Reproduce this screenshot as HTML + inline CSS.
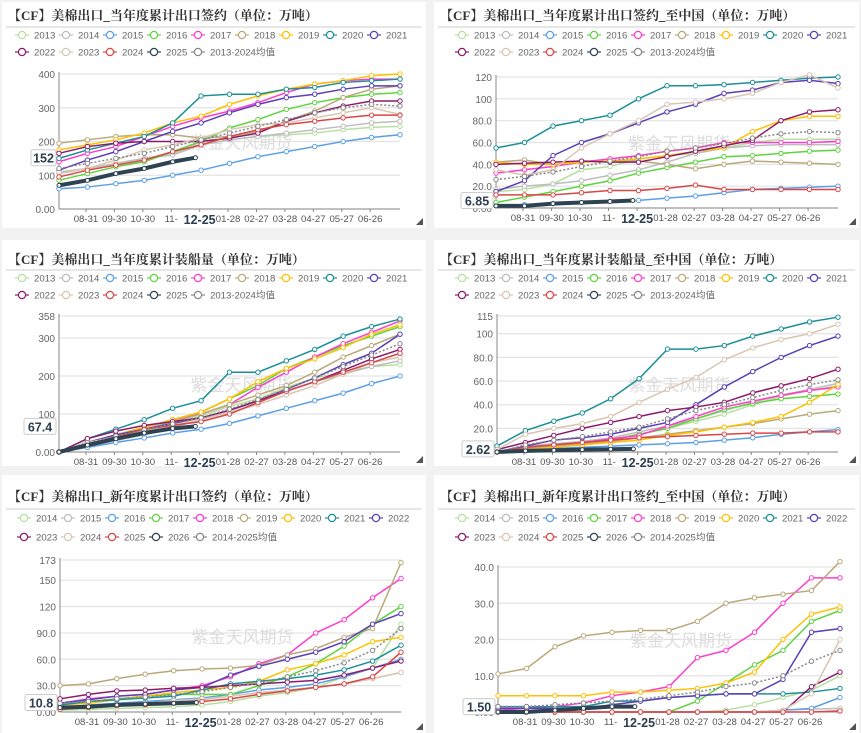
<!DOCTYPE html>
<html><head><meta charset="utf-8">
<style>
body{margin:0;background:#f2f2f2;}
svg{display:block;font-family:"Liberation Sans","Noto Sans CJK SC",sans-serif;}
</style></head>
<body>
<svg id="chart" width="861" height="733" viewBox="0 0 861 733"></svg>
<script>
// ---------- shared categories ----------
const months = ["08-31","09-30","10-30","11-","12-25","01-28","02-27","03-28","04-27","05-27","06-26"];
const yearsA = ["2013","2014","2015","2016","2017","2018","2019","2020","2021","2022","2023","2024","2025","2013-2024均值"];
const yearsB = ["2014","2015","2016","2017","2018","2019","2020","2021","2022","2023","2024","2025","2026","2014-2025均值"];
const colors = ["#b7dfa0","#bdbdbd","#5c9fe6","#5fd43e","#ff3ccc","#b9a97a","#ffc000","#1b8f98","#5b3fb5","#8c1a6b","#d9c6b2","#d94646","#2e4252","#888888"];

// ---------- panel 1: 当年度累计出口签约 ----------
const p1Ticks = [0,100,200,300,400];
const p1Labels = ["0.00","100","200","300","400"];
const p1Series = [
 [110,120,135,150,165,190,205,215,220,225,235,242,245],
 [105,120,135,150,160,190,205,215,225,235,245,255,260],
 [60,65,75,85,100,115,135,155,170,185,200,212,220],
 [85,105,125,140,170,200,240,265,295,315,330,340,345],
 [140,165,185,215,245,270,290,315,345,370,380,385,385],
 [195,205,215,220,220,210,215,230,260,290,330,355,365],
 [175,190,205,225,255,275,310,335,355,370,380,395,400],
 [150,175,195,215,255,335,340,340,355,360,375,380,385],
 [115,145,170,200,230,255,285,310,330,340,355,365,365],
 [165,185,195,200,200,200,210,225,260,285,305,320,320],
 [110,120,145,175,190,210,235,250,255,270,285,300,280],
 [95,115,130,145,170,190,215,235,250,260,270,278,278],
 [70,85,105,120,140,152],
 [120,135,150,165,185,205,225,245,265,285,300,310,305]
];
const p1Latest = "152";

// ---------- panel 2: 当年度累计出口签约_至中国 ----------
const p2Ticks = [0,20,40,60,80,100,120];
const p2Labels = ["0.00","20.0","40.0","60.0","80.0","100","120"];
const p2Series = [
 [15,17,22,35,38,45,48,50,55,60,63,63,63],
 [17,20,22,25,30,35,42,50,55,57,58,58,58],
 [2,3,4,5,6,7,9,11,14,17,18,19,20],
 [5,10,15,20,25,32,37,42,47,48,50,52,53],
 [32,35,38,42,45,48,52,55,60,60,60,60,61],
 [42,44,40,42,43,43,40,36,40,43,42,41,40],
 [42,40,40,42,43,45,48,52,55,70,80,84,84],
 [55,60,75,80,85,100,112,112,113,115,117,119,120],
 [15,25,48,60,68,78,88,95,105,108,115,117,114],
 [40,41,42,43,42,42,47,52,57,62,80,88,90],
 [35,30,35,55,68,80,95,97,100,105,115,122,110],
 [12,12,12,14,16,16,18,21,17,17,17,17,17],
 [2,2,4,5,6,6.85],
 [26,29,33,38,43,47,52,55,59,64,68,70,69]
];
const p2Latest = "6.85";

// ---------- panel 3: 当年度累计装船量 ----------
const p3Ticks = [0,100,200,300,358];
const p3Labels = ["0.00","100","200","300","358"];
const p3Series = [
 [0,20,40,55,75,95,120,140,170,195,210,225,230],
 [0,15,30,45,65,85,110,130,160,185,205,225,240],
 [0,12,25,37,50,60,75,95,115,135,155,180,200],
 [0,25,45,65,85,105,140,175,220,250,280,305,330],
 [0,25,45,65,85,100,125,170,210,250,285,315,345],
 [0,20,40,60,80,100,125,150,175,210,250,280,310],
 [0,25,45,65,85,105,140,185,220,245,275,310,335],
 [0,35,60,85,115,135,210,210,240,270,305,330,350],
 [0,25,45,60,75,90,110,135,165,195,230,260,310],
 [0,35,55,70,80,90,110,135,160,185,215,245,270],
 [0,25,40,55,70,85,105,125,150,175,205,235,250],
 [0,20,40,60,70,80,100,130,160,185,210,235,260],
 [0,18,35,50,62,67.4],
 [0,24,42,58,74,90,113,138,165,195,225,255,285]
];
const p3Latest = "67.4";

// ---------- panel 4: 当年度累计装船量_至中国 ----------
const p4Ticks = [0,20,40,60,80,100,115];
const p4Labels = ["0.00","20.0","40.0","60.0","80.0","100","115"];
const p4Series = [
 [0,4,6,8,11,15,20,26,32,40,47,52,56],
 [0,5,7,9,12,17,22,28,35,42,48,53,58],
 [0,2,3,4,5,6,7,8,10,12,15,17,19],
 [0,3,5,7,10,15,20,28,36,41,45,47,49],
 [0,4,6,8,11,14,22,30,38,43,48,52,55],
 [0,3,5,7,9,12,15,18,21,24,28,32,35],
 [0,2,4,6,8,10,14,17,21,25,30,42,57],
 [5,18,26,33,45,62,87,87,90,98,104,110,114],
 [0,5,10,12,15,20,25,40,55,68,80,90,98],
 [2,8,14,20,25,30,35,38,42,50,56,62,70],
 [2,15,20,24,30,42,53,63,78,88,95,100,108],
 [0,4,6,8,10,12,13,14,15,16,16,17,17],
 [0,1,1.5,2,2.3,2.62],
 [0,6,10,13,17,21,28,35,40,46,52,57,61]
];
const p4Latest = "2.62";

// ---------- panel 5: 新年度累计出口签约 ----------
const p5Ticks = [0,30,60,90,120,150,173];
const p5Labels = ["0.00","30.0","60.0","90.0","120","150","173"];
const p5Series = [
 [2,3,4,5,6,8,12,18,22,28,40,50,100],
 [5,7,8,10,12,14,18,22,25,28,32,38,45],
 [5,8,10,12,14,16,20,25,28,32,40,50,60],
 [8,12,15,18,20,20,20,30,40,55,75,100,120],
 [10,15,18,20,25,30,40,55,65,90,105,130,152],
 [30,32,38,43,47,49,50,53,65,72,85,95,170],
 [8,10,14,18,22,25,28,35,48,55,65,80,85],
 [8,12,14,16,18,25,32,35,38,42,48,58,76],
 [10,14,18,20,25,28,42,52,60,68,80,100,112],
 [15,20,24,25,27,28,30,32,34,36,42,50,58],
 [3,5,7,10,13,15,18,22,25,28,32,38,45],
 [3,5,7,8,10,12,15,20,24,28,32,40,68],
 [5,6,8,9,10,10.8],
 [10,12,15,17,20,23,28,33,40,47,56,70,95]
];
const p5Latest = "10.8";

// ---------- panel 6: 新年度累计出口签约_至中国 ----------
const p6Ticks = [0,10,20,30,40];
const p6Labels = ["0.00","10.0","20.0","30.0","40.0"];
const p6Series = [
 [0,0,0,0,0,0,0,0,0.5,2,4,6,10],
 [0,0,0,0,0,0,0,0,0,0,0.5,0.8,1],
 [0,0,0,0,0,0,0,0,0,0,0.5,1,4],
 [0,0,0,0,0,0,0,3,8,13,17,25,28],
 [0.5,1,1.5,2.5,4.5,5.5,7,15,17,22,30,37,37],
 [10.5,12,18,21,22,22.5,22.5,25,30,31.5,32.5,33.5,41.5],
 [4.5,4.5,4.5,4.5,5.5,5.5,6,6.5,8,11,20,27,29],
 [1.5,1.5,1.5,1.5,3,3,4,4.5,5,5,5,5.5,6.5],
 [1,1,1,1,2,3,4,4.5,5,5,9,22,23],
 [0,0,0,0,0,0,0,0,0,0,0,7,11],
 [0,0,0,0,0,0,0,0,0,0,0.5,5,20],
 [0,0,0,0,0,0,0,0,0,0,0,0,0.3],
 [0,0,0.5,1,1.5,1.5],
 [1.5,1.5,2,2.5,3,3.5,4.5,5.5,7,8,10,14,17]
];
const p6Latest = "1.50";

const latestIdx = 4.8; // position of today's (12-25) value along month axis

const NS = "http://www.w3.org/2000/svg";
const svg = document.getElementById("chart");
function mk(tag, attrs, parent){
  const e = document.createElementNS(NS, tag);
  for (const k in attrs) e.setAttribute(k, attrs[k]);
  (parent||svg).appendChild(e);
  return e;
}

function panel(cfg){
  const g = mk("g", {});
  
  
  const bg = mk("rect", {x:cfg.px, y:cfg.py, width:cfg.pw, height:cfg.ph, fill:"#fff"}, g);
  
  
  const t = mk("text", {x:cfg.px+6, y:cfg.titleY, "font-size":13, fill:"#333", "font-weight":"bold", "font-family":"'Liberation Serif','Noto Serif CJK SC',serif"}, g);
  t.textContent = cfg.title;
  
  
  mk("line", {x1:cfg.px+4, x2:cfg.px+cfg.pw-4, y1:cfg.sepY, y2:cfg.sepY, stroke:"#ccc", "stroke-width":1}, g);

  // legend
  cfg.years.forEach((name,i)=>{
    const row = i < 9 ? 0 : 1;
    const col = i < 9 ? i : i-9;
    const lx = cfg.legX + col*44;
    const ly = row===0 ? cfg.legY1 : cfg.legY2;
    const lg = mk("g", {}, g);
    
    
    mk("line", {x1:lx-7, x2:lx+7, y1:ly, y2:ly, stroke:colors[i], "stroke-width":1.2}, lg);
    mk("circle", {cx:lx, cy:ly, r:3.6, fill:"#fff", stroke:colors[i], "stroke-width":1.2}, lg);
    const tx = mk("text", {x:lx+12, y:ly+3.5, "font-size":9.6, fill:"#666"}, lg);
    tx.textContent = name;
  });

  const yMap = v => cfg.y0 - v/cfg.refV*(cfg.y0-cfg.refY);
  const xMap = i => cfg.x0 + i*(cfg.x1-cfg.x0)/12;

  // grid + y labels
  cfg.ticks.forEach((v,i)=>{
    const y = yMap(v);
    const gl = mk("line", {x1:cfg.x0, x2:cfg.x1, y1:y, y2:y, stroke:"#e3e3e3", "stroke-width":1.2}, g);
    
    
    const tl = mk("text", {x:cfg.x0-4, y:y+4, "font-size":10, fill:"#666", "text-anchor":"end"}, g);
    tl.textContent = cfg.labels[i];
    
    
  });
  const yTop = yMap(cfg.ticks[cfg.ticks.length-1]) - 2;
  const ya = mk("line", {x1:cfg.x0, x2:cfg.x0, y1:yTop, y2:cfg.y0, stroke:"#888", "stroke-width":1}, g);
  
  
  const xa = mk("line", {x1:cfg.x0, x2:cfg.x1, y1:cfg.y0, y2:cfg.y0, stroke:"#888", "stroke-width":1}, g);
  
  

  months.forEach((m,i)=>{
    const x = xMap(i+0.95);
    mk("line", {x1:x, x2:x, y1:cfg.y0, y2:cfg.y0+3, stroke:"#888"}, g);
    const bold = m==="12-25";
    const tl = mk("text", {x:x, y:cfg.y0+(bold?15:13), "font-size":bold?12.5:9.6, "font-weight":bold?"bold":"normal", fill:bold?"#2c3e50":"#555", "text-anchor":"middle"}, g);
    tl.textContent = m;
    
    
  });

  // watermark
  const wm = mk("text", {x:(cfg.x0+cfg.x1)/2+12, y:(cfg.y0+yTop)/2+8, "font-size":17, fill:"#dcdcdc", "text-anchor":"middle"}, g);
  wm.textContent = "紫金天风期货";
  
  

  // series (current year last-drawn on top)
  const order = [0,1,2,3,4,5,6,7,8,9,10,11,13,12];
  order.forEach(si=>{
    const vals = cfg.series[si];
    const isCur = si===12, isAvg = si===13;
    const pts = vals.map((v,i)=>{
      const xi = (isCur && i===vals.length-1) ? latestIdx : i;
      return [xMap(xi), yMap(v)];
    });
    const sg = mk("g", {}, g);
    
    
    mk("polyline", {points:pts.map(p=>p.join(",")).join(" "), fill:"none", stroke:colors[si],
      "stroke-width": isCur?4:1.5, "stroke-dasharray": isAvg?"2,2":"none"}, sg);
    pts.forEach(p=>{
      mk("circle", {cx:p[0], cy:p[1], r:isCur?2:2.2, fill:"#fff", stroke:colors[si], "stroke-width":1}, sg);
    });
  });

  // latest value badge
  const cur = cfg.series[12];
  const by = yMap(cur[cur.length-1]);
  const bw = cfg.latest.length*7+4;
  const bgb = mk("rect", {x:cfg.x0-bw-3, y:by-8, width:bw, height:16, fill:"#fff", stroke:"#ccc", rx:2}, g);
  
  
  const bt = mk("text", {x:cfg.x0-3-bw/2, y:by+5, "font-size":12.5, "font-weight":"bold", fill:"#2c3e50", "text-anchor":"middle"}, g);
  bt.textContent = cfg.latest;
  mk("text", {x:cfg.px+cfg.pw-10, y:cfg.py+cfg.ph-4, "font-size":7, fill:"#555"}, g).textContent = "◢";
}

const T = "【CF】美棉出口_";
panel({name:"panel-export-sales", px:2,py:2,pw:424,ph:226, title:T+"当年度累计出口签约（单位：万吨）", titleY:20, sepY:27,
  legX:22, legY1:35, legY2:52, years:yearsA, x0:59,x1:400,y0:209,refV:400,refY:74,
  ticks:p1Ticks, labels:p1Labels, series:p1Series, latest:p1Latest});
panel({name:"panel-export-sales-china", px:434,py:2,pw:425,ph:226, title:T+"当年度累计出口签约_至中国（单位：万吨）", titleY:20, sepY:27,
  legX:462, legY1:35, legY2:52, years:yearsA, x0:496,x1:838,y0:208,refV:120,refY:77,
  ticks:p2Ticks, labels:p2Labels, series:p2Series, latest:p2Latest});
panel({name:"panel-shipments", px:2,py:240,pw:424,ph:226, title:T+"当年度累计装船量（单位：万吨）", titleY:264, sepY:270,
  legX:22, legY1:278, legY2:295, years:yearsA, x0:59,x1:400,y0:452,refV:358,refY:316,
  ticks:p3Ticks, labels:p3Labels, series:p3Series, latest:p3Latest});
panel({name:"panel-shipments-china", px:434,py:240,pw:425,ph:226, title:T+"当年度累计装船量_至中国（单位：万吨）", titleY:264, sepY:270,
  legX:462, legY1:278, legY2:295, years:yearsA, x0:497,x1:838,y0:452,refV:115,refY:316,
  ticks:p4Ticks, labels:p4Labels, series:p4Series, latest:p4Latest});
panel({name:"panel-new-year-sales", px:2,py:475,pw:424,ph:258, title:T+"新年度累计出口签约（单位：万吨）", titleY:501, sepY:509,
  legX:24, legY1:518, legY2:537, years:yearsB, x0:60,x1:401,y0:712,refV:173,refY:560,
  ticks:p5Ticks, labels:p5Labels, series:p5Series, latest:p5Latest});
panel({name:"panel-new-year-sales-china", px:434,py:475,pw:425,ph:258, title:T+"新年度累计出口签约_至中国（单位：万吨）", titleY:501, sepY:509,
  legX:462, legY1:518, legY2:537, years:yearsB, x0:498,x1:840,y0:712,refV:40,refY:567,
  ticks:p6Ticks, labels:p6Labels, series:p6Series, latest:p6Latest});
</script>
</body></html>
